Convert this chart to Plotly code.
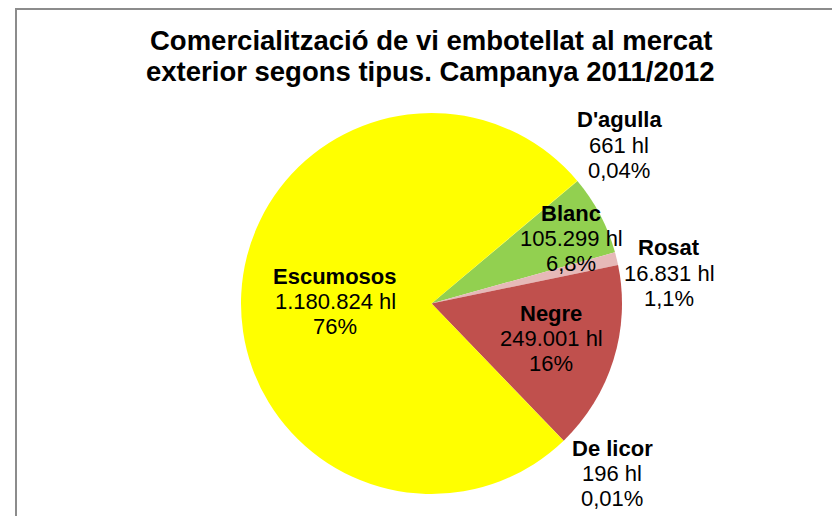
import plotly.graph_objects as go

categories = ["Blanc", "Rosat", "Negre", "De licor", "Escumosos", "D'agulla"]
volumes_hl = [105299, 16831, 249001, 196, 1180824, 661]
volume_labels = ["105.299 hl", "16.831 hl", "249.001 hl", "196 hl", "1.180.824 hl", "661 hl"]
pct_labels = ["6,8%", "1,1%", "16%", "0,01%", "76%", "0,04%"]
colors = ["#92D050", "#E6B9B8", "#C0504D", "#C0504D", "#FFFF00", "#FFFF00"]
title_lines = ["Comercialització de vi embotellat al mercat",
               "exterior segons tipus. Campanya 2011/2012"]

W, H = 840, 516
OFF = 8  # page body margin offset
cx, cy, r = 431.5 - OFF, 303.5 - OFF, 190.5
FONT = "Liberation Sans, Arial, sans-serif"

# data-label block centres (screen px), layout only
label_centres = {
    "Blanc": (571, 238),
    "Rosat": (669, 273),
    "Negre": (551, 338),
    "De licor": (612, 473),
    "Escumosos": (335, 301),
    "D'agulla": (619, 145),
}
LINE_PITCH = 25

fig = go.Figure(go.Pie(
    labels=categories,
    values=volumes_hl,
    sort=False,
    direction="clockwise",
    rotation=50,
    marker=dict(colors=colors, line=dict(width=0)),
    textinfo="none",
    showlegend=False,
    hoverinfo="label+value+percent",
    domain=dict(x=[(cx - r) / W, (cx + r) / W], y=[1 - (cy + r) / H, 1 - (cy - r) / H]),
))

annotations = []
for t, yy in zip(title_lines, [40, 71]):
    annotations.append(dict(
        text=f"<b>{t}</b>", xref="paper", yref="paper",
        x=(430.5 - OFF) / W, xanchor="center",
        y=1 - (yy - OFF) / H, yanchor="middle", showarrow=False,
        font=dict(family=FONT, size=27.5, color="#000000")))

for name, vol, pct in zip(categories, volume_labels, pct_labels):
    X, Y = label_centres[name]
    for i, line in enumerate([f"<b>{name}</b>", vol, pct]):
        annotations.append(dict(
            text=line, xref="paper", yref="paper",
            x=(X - OFF) / W, xanchor="center",
            y=1 - (Y + (i - 1) * LINE_PITCH - OFF) / H, yanchor="middle",
            showarrow=False,
            font=dict(family=FONT, size=22, color="#000000")))

fig.update_layout(
    width=W, height=H,
    margin=dict(l=0, r=0, t=0, b=0),
    paper_bgcolor="white",
    annotations=annotations,
    shapes=[dict(
        type="rect", xref="paper", yref="paper",
        x0=(16 - OFF) / W, x1=1.02, y0=-0.02, y1=1 - 1 / H,
        line=dict(color="#8c8c8c", width=2), fillcolor="rgba(0,0,0,0)",
    )],
)

fig.write_html("out.html")
